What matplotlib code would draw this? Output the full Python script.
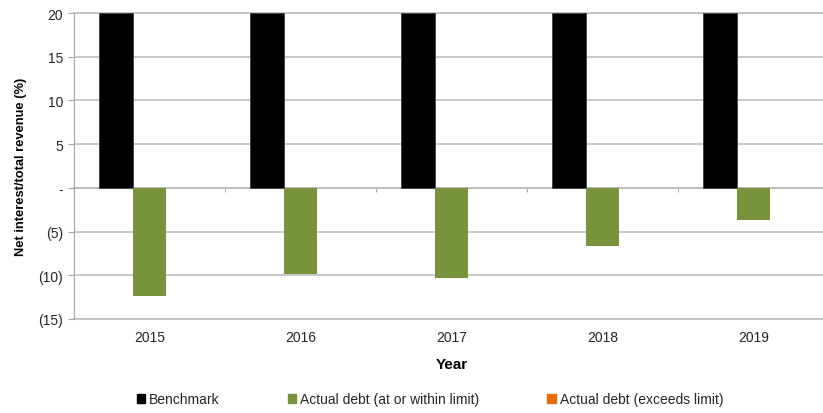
import matplotlib
matplotlib.use('Agg')
import matplotlib.pyplot as plt
import numpy as np
from matplotlib.patches import Patch

plt.rcParams['font.family'] = ['Liberation Sans', 'DejaVu Sans']

# Data
years = ['2015', '2016', '2017', '2018', '2019']
benchmark = [20, 20, 20, 20, 20]
actual_within = [-12.4, -9.9, -10.3, -6.7, -3.7]
actual_exceeds = [0, 0, 0, 0, 0]
y_ticks = [-15, -10, -5, 0, 5, 10, 15, 20]
y_tick_labels = ['(15)', '(10)', '(5)', '-', '5', '10', '15', '20']

black = '#000000'
green = '#77933C'
orange = '#E46C0A'
grid_gray = '#BFBFBF'
axis_gray = '#A6A6A6'
text_color = '#262626'

W, H = 823, 414
fig = plt.figure(figsize=(W / 100, H / 100), dpi=100)
ax = fig.add_axes([74 / W, (H - 320) / H, (829 - 74) / W, (320 - 14) / H])

x = np.arange(len(years))
w = 0.221
ax.bar(x - w, benchmark, w, color=black, edgecolor='#404040', linewidth=0.6, zorder=3)
ax.bar(x, actual_within, w, color=green, zorder=3)
ax.bar(x + w, actual_exceeds, w, color=orange, zorder=3)

ax.set_xlim(-0.5, len(years) - 0.5)
ax.set_ylim(-15, 20)
ax.set_yticks(y_ticks)
ax.set_yticklabels(y_tick_labels)
ax.yaxis.grid(True, color=grid_gray, linewidth=1.2, zorder=0)
ax.set_axisbelow(True)
# outer gridlines at the axis limits, not clipped
for yv in (y_ticks[0], y_ticks[-1]):
    ax.axhline(yv, color=grid_gray, linewidth=1.2, clip_on=False, zorder=1)

ax.set_xticks(x)
ax.set_xticklabels(years)
ax.tick_params(axis='x', length=0, pad=8, labelsize=10, labelcolor=text_color)
ax.tick_params(axis='y', length=4, color=axis_gray, pad=4, labelsize=10, labelcolor=text_color)

for side in ['top', 'right', 'bottom']:
    ax.spines[side].set_visible(False)
ax.spines['left'].set_color(axis_gray)
ax.spines['left'].set_zorder(4)

# category axis crossing at zero, with ticks between categories
zero_pos = 15 / 35
sec = ax.secondary_xaxis(zero_pos)
sec.set_xticks(np.arange(len(years) + 1) - 0.5)
sec.set_xticklabels([])
sec.tick_params(axis='x', length=3, color=axis_gray, direction='out')
sec.spines['bottom'].set_color(axis_gray)
sec.spines['bottom'].set_linewidth(1.2)

ax.set_ylabel('Net interest/total revenue (%)', fontsize=9.3, fontweight='bold', labelpad=8)
ax.set_xlabel('Year', fontsize=11, fontweight='bold', labelpad=9)

handles = [Patch(color=black), Patch(color=green), Patch(color=orange)]
labels = ['Benchmark', 'Actual debt (at or within limit)', 'Actual debt (exceeds limit)']
fig.legend(handles, labels, loc='center', bbox_to_anchor=(430 / W, (H - 400) / H),
           ncol=3, frameon=False, fontsize=10, handlelength=0.6, handleheight=0.6,
           handletextpad=0.3, columnspacing=4.9, labelcolor=text_color)

fig.savefig('out.png', dpi=100)
